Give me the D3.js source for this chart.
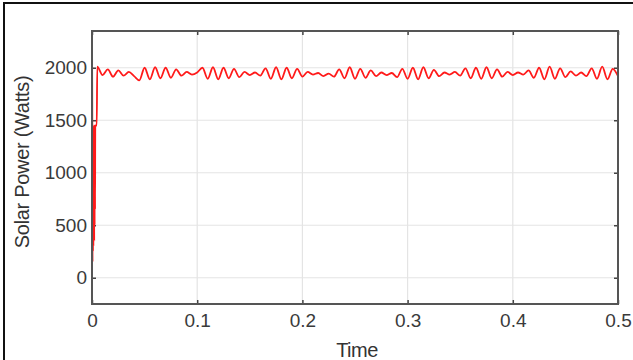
<!DOCTYPE html>
<html>
<head>
<meta charset="utf-8">
<script src="https://cdn.jsdelivr.net/npm/d3@7"></script>
<style>
  body { margin: 0; background: #fff; }
  svg { display: block; font-family: "Liberation Sans", Arial, sans-serif; }
</style>
</head>
<body>
<svg width="633" height="360"></svg>
<script>
var xTicks = [0, 0.1, 0.2, 0.3, 0.4, 0.5];
var yTicks = [0, 500, 1000, 1500, 2000];

// start-up transient (time in s, power in W)
var startTime  = [0, 0.0001, 0.0003, 0.0005, 0.0007, 0.0009, 0.0011, 0.0013, 0.0015, 0.0017,
                  0.0019, 0.0021, 0.0023, 0.0025, 0.0027, 0.0029, 0.0031, 0.0045];
var startPower = [100, 2100, 1450, 150, 1400, 250, 1450, 300, 1420, 400,
                  1450, 350, 1450, 500, 1450, 650, 1450, 1450];

// steady part, one sample every 5 ms starting at 5 ms
var steadyStep = 0.005;
var steadyPower = [
  2010, 1930, 1985, 1915, 1975, 1925, 1960, 1920, 1880, 2000,
  1890, 2005, 1900, 2000, 1905, 1985, 1925, 1960, 1935, 1955,
  2000, 1895, 2005, 1890, 2000, 1900, 1990, 1910, 1960, 1930,
  1955, 1925, 1995, 1895, 2005, 1890, 2000, 1900, 1990, 1915,
  1960, 1935, 1950, 1920, 1945, 1915, 1985, 1900, 2005, 1895,
  1990, 1905, 1975, 1920, 1955, 1930, 1950, 1910, 1990, 1895,
  2000, 1890, 2005, 1900, 1980, 1920, 1955, 1935, 1960, 1925,
  1995, 1900, 2000, 1895, 2005, 1900, 1985, 1915, 1960, 1930,
  1955, 1935, 1975, 1905, 2000, 1890, 2010, 1895, 1995, 1910,
  1965, 1925, 1955, 1920, 1995, 1895, 2010, 1890, 1990, 1920
];

var svg = d3.select("svg");
var plot = {left: 92, right: 618, top: 31, bottom: 304};

var x = d3.scaleLinear().domain([0, 0.5]).range([plot.left, plot.right]);
var y = d3.scaleLinear().domain([-250, 2350]).range([plot.bottom, plot.top]);

var points = startTime.map(function(t, i) { return [t, startPower[i]]; });
steadyPower.forEach(function(p, i) { points.push([steadyStep * (i + 1), p]); });

// outer frame of the picture
svg.append("rect")
  .attr("x", 4).attr("y", 3)
  .attr("width", 700).attr("height", 400)
  .attr("fill", "none").attr("stroke", "#111").attr("stroke-width", 2);

// grid
var grid = svg.append("g").attr("stroke", "#e4e4e4").attr("stroke-width", 1.2);
grid.selectAll(".gx").data(xTicks.slice(1, -1)).enter().append("line")
  .attr("x1", function(d) { return x(d); }).attr("x2", function(d) { return x(d); })
  .attr("y1", plot.top).attr("y2", plot.bottom);
grid.selectAll(".gy").data(yTicks).enter().append("line")
  .attr("y1", function(d) { return y(d); }).attr("y2", function(d) { return y(d); })
  .attr("x1", plot.left).attr("x2", plot.right);

// axes with inward ticks
var xAxis = svg.append("g")
  .attr("transform", "translate(0," + plot.bottom + ")")
  .call(d3.axisBottom(x).tickValues(xTicks).tickSize(-4).tickPadding(10).tickFormat(d3.format("")));
var xTop = svg.append("g")
  .attr("transform", "translate(0," + plot.top + ")")
  .call(d3.axisTop(x).tickValues(xTicks).tickSize(-4).tickFormat(""));
var yAxis = svg.append("g")
  .attr("transform", "translate(" + plot.left + ",0)")
  .call(d3.axisLeft(y).tickValues(yTicks).tickSize(-4).tickPadding(5).tickFormat(d3.format("")));
var yRight = svg.append("g")
  .attr("transform", "translate(" + plot.right + ",0)")
  .call(d3.axisRight(y).tickValues(yTicks).tickSize(-4).tickFormat(""));

[xAxis, xTop, yAxis, yRight].forEach(function(a) {
  a.select(".domain").remove();
  a.selectAll(".tick line").attr("stroke", "#444").attr("stroke-width", 1.5);
  a.selectAll("text").attr("fill", "#3a3a3a").style("font-size", "19px")
    .style("font-family", "'Liberation Sans', Arial, sans-serif");
});

// red power trace
svg.append("path")
  .datum(points)
  .attr("fill", "none")
  .attr("stroke", "#ff1a1a")
  .attr("stroke-width", 1.8)
  .attr("stroke-linejoin", "round")
  .attr("d", d3.line()
    .x(function(d) { return x(d[0]); })
    .y(function(d) { return y(d[1]); })
    .curve(d3.curveMonotoneX));

// axes box
svg.append("rect")
  .attr("x", plot.left).attr("y", plot.top)
  .attr("width", plot.right - plot.left).attr("height", plot.bottom - plot.top)
  .attr("fill", "none").attr("stroke", "#555").attr("stroke-width", 2);

// axis titles
svg.append("text")
  .attr("x", 357).attr("y", 357)
  .attr("text-anchor", "middle")
  .attr("fill", "#333").style("font-size", "20px").style("letter-spacing", "-0.5px")
  .text("Time");
svg.append("text")
  .attr("transform", "translate(29,162) rotate(-90)")
  .attr("text-anchor", "middle")
  .attr("fill", "#333").style("font-size", "20px").style("letter-spacing", "-0.3px")
  .text("Solar Power (Watts)");
</script>
</body>
</html>
